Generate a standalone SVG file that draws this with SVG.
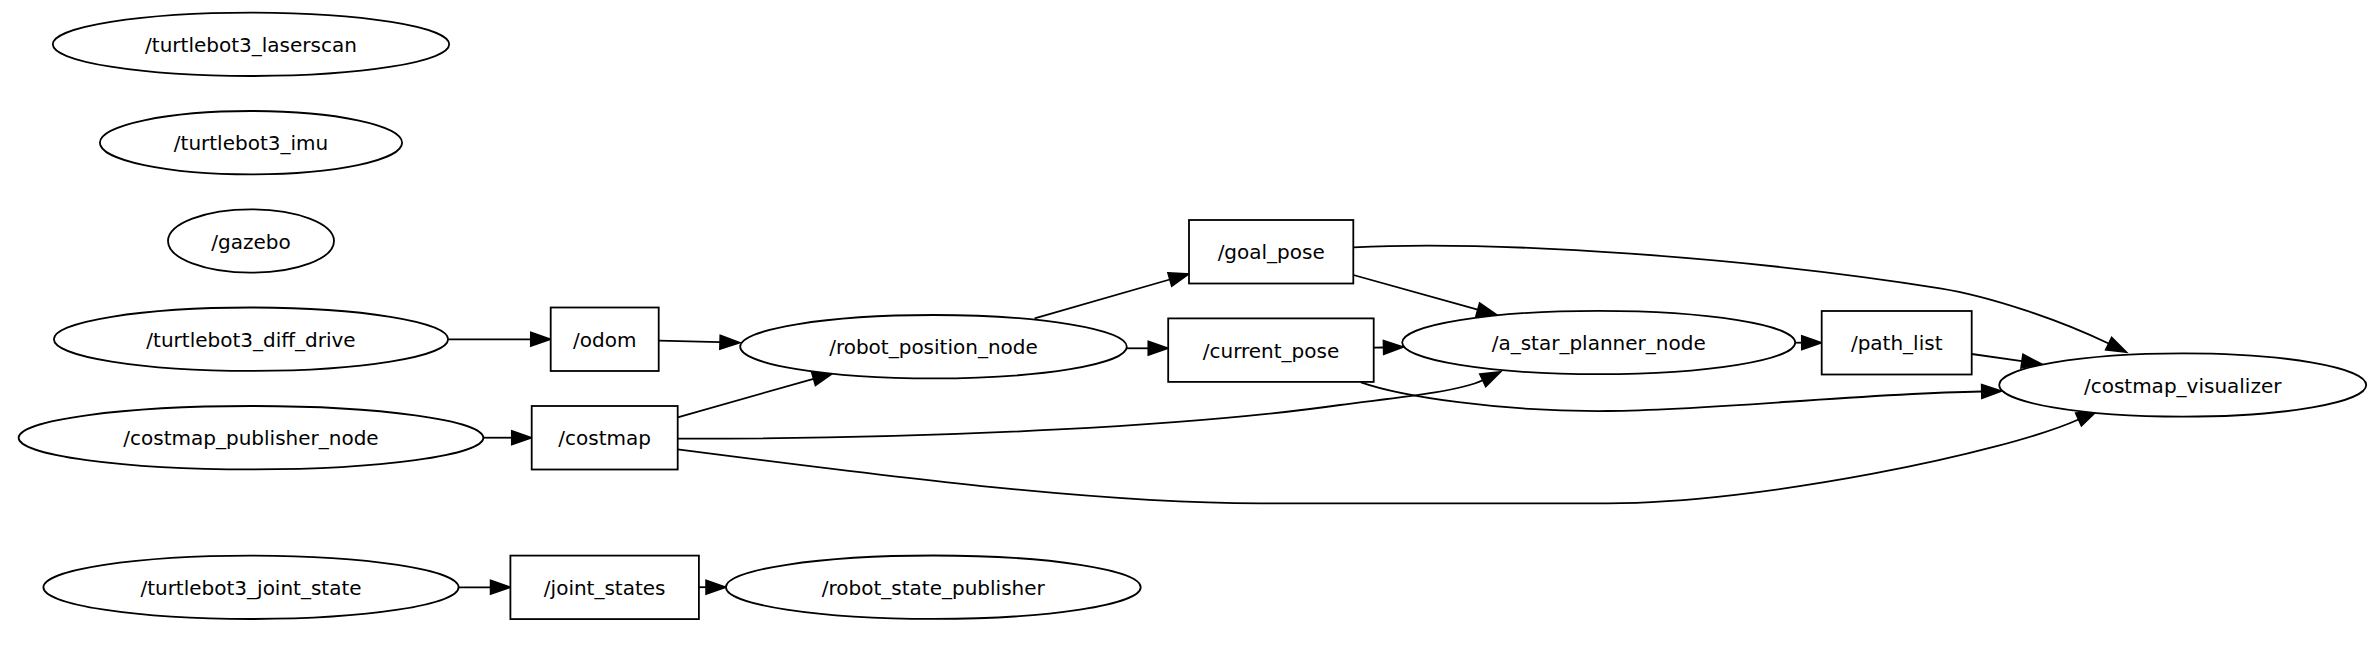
<svg xmlns="http://www.w3.org/2000/svg" width="2368" height="657" viewBox="0 0 2368 657">
<style>
.n ellipse, .n rect { fill: #ffffff; stroke: #000000; stroke-width: 1.8; }
.n text { font-family: "DejaVu Sans", "Liberation Sans", sans-serif; font-size: 20px; text-anchor: middle; fill: #000000; }
.e path { fill: none; stroke: #000000; stroke-width: 1.8; marker-end: url(#ah); }
</style>
<defs>
<marker id="ah" markerUnits="userSpaceOnUse" markerWidth="22" markerHeight="16" refX="0" refY="7" orient="auto" overflow="visible">
<path d="M0,0 L20,7 L0,14 Z" fill="#000000" stroke="#000000" stroke-width="1.5"/>
</marker>
</defs>
<rect x="0" y="0" width="2368" height="657" fill="#ffffff"/>
<g id="edges" class="e">
<path d="M447.8,339.3 L530.7,339.3"/>
<path d="M483.5,437.7 L511.7,437.7"/>
<path d="M458.5,587.3 L490.5,587.3"/>
<path d="M698.9,587.2 L706,587.2"/>
<path d="M658.7,340.7 L720,342.2"/>
<path d="M677.7,417.3 L813.5,378.8"/>
<path d="M1034.6,318.3 L1169.8,279.5"/>
<path d="M1126.9,348.3 L1148.2,348.3"/>
<path d="M1353.4,275 L1477.7,309.6"/>
<path d="M1373.7,347.7 L1383.5,347.5"/>
<path d="M1795.2,342.7 L1801.7,342.7"/>
<path d="M1971.7,354 L2021.9,361.2"/>
<path d="M1353.4,247.3 C1500,240 1750,258 1940,288.3 C1990,296.3 2060,320 2108.6,343.5"/>
<path d="M1361,382.3 C1400,396 1500,412 1608,411 C1720,410 1850,394 1981.7,391.5"/>
<path d="M677.7,438.7 C950,439 1200,425 1340,405 C1380,399.3 1455.7,393.2 1482.7,380.3"/>
<path d="M677.7,449.3 C900,478 1100,503.3 1260,503.3 L1608,503.3 C1760,503.3 2005.6,452.4 2078.5,419.5"/>
</g>
<g id="n_laserscan" class="n"><ellipse cx="251" cy="44.3" rx="198.2" ry="31.7"/><text x="251" y="52">/turtlebot3_laserscan</text></g>
<g id="n_imu" class="n"><ellipse cx="251" cy="142.7" rx="151.1" ry="31.7"/><text x="251" y="150.4">/turtlebot3_imu</text></g>
<g id="n_gazebo" class="n"><ellipse cx="251" cy="241" rx="83" ry="31.7"/><text x="251" y="248.7">/gazebo</text></g>
<g id="n_diff_drive" class="n"><ellipse cx="251" cy="339.2" rx="197.1" ry="31.7"/><text x="251" y="346.9">/turtlebot3_diff_drive</text></g>
<g id="n_costmap_publisher" class="n"><ellipse cx="251" cy="437.7" rx="232.4" ry="31.7"/><text x="251" y="445.4">/costmap_publisher_node</text></g>
<g id="n_joint_state" class="n"><ellipse cx="251" cy="587.3" rx="207.6" ry="31.7"/><text x="251" y="595">/turtlebot3_joint_state</text></g>
<g id="n_odom" class="n"><rect x="550.7" y="307.5" width="108" height="63.5"/><text x="604.7" y="346.9">/odom</text></g>
<g id="n_costmap" class="n"><rect x="531.7" y="406" width="146" height="63.5"/><text x="604.7" y="445.4">/costmap</text></g>
<g id="n_joint_states" class="n"><rect x="510.4" y="555.6" width="188.5" height="63.5"/><text x="604.7" y="595">/joint_states</text></g>
<g id="n_robot_position" class="n"><ellipse cx="933.5" cy="346.7" rx="193.3" ry="31.7"/><text x="933.5" y="354.4">/robot_position_node</text></g>
<g id="n_robot_state_publisher" class="n"><ellipse cx="933.3" cy="587.2" rx="207.4" ry="31.7"/><text x="933.3" y="595">/robot_state_publisher</text></g>
<g id="n_goal_pose" class="n"><rect x="1189" y="220" width="164.3" height="63.5"/><text x="1271.2" y="259.4">/goal_pose</text></g>
<g id="n_current_pose" class="n"><rect x="1168.2" y="318.4" width="205.5" height="63.5"/><text x="1271" y="357.8">/current_pose</text></g>
<g id="n_a_star" class="n"><ellipse cx="1598.7" cy="342.5" rx="196.5" ry="31.7"/><text x="1598.7" y="350.2">/a_star_planner_node</text></g>
<g id="n_path_list" class="n"><rect x="1821.7" y="311" width="150" height="63.5"/><text x="1896.7" y="350.4">/path_list</text></g>
<g id="n_costmap_visualizer" class="n"><ellipse cx="2182.7" cy="385" rx="183.5" ry="31.7"/><text x="2182.7" y="392.7">/costmap_visualizer</text></g>
</svg>
